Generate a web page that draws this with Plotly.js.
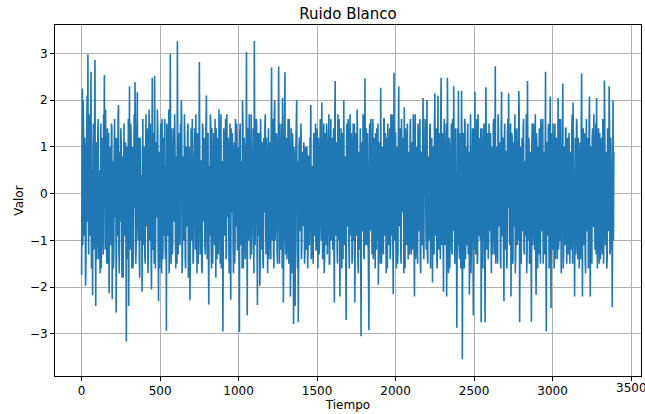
<!DOCTYPE html>
<html>
<head>
<meta charset="utf-8">
<script src="https://cdn.plot.ly/plotly-3.0.1.min.js"></script>
<style>html,body{margin:0;padding:0;background:#fff;}#chart{width:645px;height:414px;}</style>
</head>
<body>
<div id="chart"></div>
<script>
// Ruido blanco: valores leídos/estimados del gráfico
const timeStep = 5;
// valores en t = 0, 5, 10, ...
const valoresA = [
-1.74,2.25,2.0,-0.9,1.2,-1.97,0.4,2.1,2.98,-1.3,0.8,-0.6,2.61,-1.1,-2.17,1.5,-0.3,2.86,-2.40,1.1,
-0.8,1.6,-1.4,0.5,1.3,-1.6,0.9,-0.2,1.7,2.54,-1.2,0.6,-1.5,1.4,-0.7,-2.13,1.0,-0.4,1.5,-2.25,
0.7,-1.3,1.6,-0.5,-2.54,1.2,-0.9,1.9,-1.7,0.3,1.4,-1.1,0.8,-1.8,1.5,-0.6,1.1,-3.16,0.9,-1.4,
-2.4,2.30,-0.8,1.3,-1.6,0.6,-1.2,1.7,2.39,-1.5,0.4,2.17,-1.0,1.2,-1.8,0.9,-0.3,-2.1,1.6,-1.1,
1.0,-1.5,1.7,-0.7,0.5,-1.3,1.8,-1.0,0.8,-2.05,2.48,-1.2,0.6,2.52,-1.6,1.1,-0.5,1.4,-2.3,0.9,
-1.0,1.5,-1.7,0.7,1.2,-0.9,1.6,-1.4,-2.93,1.3,-0.4,1.8,-1.2,2.99,-1.5,0.5,-1.1,1.4,-0.6,1.0,
-1.6,0.8,3.26,-1.3,1.1,-0.8,1.5,2.0,-1.7,0.6,-1.0,1.7,-1.4,0.9,-0.5,1.3,-1.8,1.0,-2.28,1.2,
-0.7,1.6,-1.5,0.4,1.4,-1.2,0.8,-1.7,1.1,-0.9,2.82,-1.3,0.7,-1.6,1.5,-0.4,1.2,-1.1,0.9,2.1,
-1.4,1.3,-2.37,0.6,1.7,-1.0,1.4,-1.5,0.8,-0.6,1.6,-1.8,0.5,1.2,-1.3,1.8,-0.8,1.0,-1.6,0.7,
-2.95,1.4,-0.9,1.1,-1.4,1.7,-0.5,0.9,-1.7,1.5,-2.27,0.8,1.3,-1.1,0.4,-1.5,1.6,-0.7,1.2,-1.2,
1.0,-2.96,1.5,-0.8,0.6,2.0,-1.6,1.2,-1.0,0.7,3.03,-2.6,1.4,-0.5,1.1,-1.4,1.7,-0.9,0.5,-1.2,
3.27,-1.1,0.9,1.5,-2.38,1.3,-0.6,-1.97,1.6,-1.2,0.8,-1.5,1.2,-0.4,1.7,-1.3,0.5,-1.7,1.4,-0.8,
1.1,-1.4,2.70,-1.0,1.6,-1.6,2.0,-0.7,1.3,-1.2,0.6,2.72,-1.5,1.0,-0.9,1.5,2.05,-2.33,0.8,2.60,
-1.3,1.2,-0.6,1.6,-1.5,0.9,-2.2,1.4,-1.0,1.1,-2.79,0.7,-2.4,1.3,2.0,-1.6,-2.75,1.0,-0.8,1.2,
-1.4,0.9,-0.7,1.1,-1.5,0.6,-1.2,1.0,-1.6,0.8,-1.1,1.2,1.9,-1.3,0.5,-1.5,1.3,-0.9,1.5,-1.2,
1.4,-1.6,0.7,-1.1,1.6,-0.5,1.95,-1.4,1.0,-1.7,1.3,-0.8,1.5,-1.3,0.6,1.7,-1.5,0.9,-1.0,1.2,
-1.2,1.4,-2.33,2.41,-0.9,1.1,-1.5,0.7,1.6,-2.2,1.0,-0.6,1.3,-1.4,2.0,-1.1,0.8,-2.7,1.5,-0.7,
1.2,-1.6,1.7,-0.9,0.5,-1.3,1.5,-1.0,-2.33,1.3,-0.6,1.8,-1.5,0.9,-1.2,1.4,-3.05,1.1,-0.8,1.6,
-1.4,2.47,-1.1,0.7,1.3,-1.7,-2.92,1.5,-0.5,1.0,-1.3,1.6,-0.9,1.2,-1.6,0.6,1.4,-1.0,-1.95,1.1,
-0.8,2.27,-1.5,1.0,-1.2,1.6,-0.6,1.3,-1.7,0.8,1.5,-1.1,0.5,-1.4,1.7,-0.9,1.2,-2.15,2.59,-1.0,
1.3,-1.6,0.9,-1.2,2.3,-0.7,1.4,-1.5,1.0,-0.4,1.2,1.85,-1.6,0.6,-1.1,1.5,-1.4,0.8,-0.9,1.6,
-1.3,1.1,-0.6,1.4,-2.2,1.7,-1.0,0.7,-1.5,1.2,-0.8,1.6,-1.7,0.9,-1.1,2.05,-1.4,0.5,1.3,-1.2,
2.0,-1.5,0.8,-1.0,1.5,-0.7,1.2,-1.9,1.0,-1.3,2.15,-0.9,1.4,-1.6,2.1,-1.2,0.6,-1.4,2.48,-0.8,
1.3,-2.1,1.6,-1.1,0.9,-2.2,2.48,-1.0,1.2,-1.6,0.7,1.5,-1.3,0.5,2.3,-1.5,1.1,-0.9,-2.87,1.4,
2.2,-1.2,0.8,-1.6,2.2,-3.54,1.3,-0.7,1.6,-1.4,1.0,-1.1,1.5,-0.5,-2.16,1.2,-1.7,0.9,1.4,-2.6,
1.1,2.18,-1.3,0.6,-1.5,1.7,-0.9,1.2,-1.0,-2.75,1.4,-1.6,0.8,1.3,-2.75,2.28,-1.2,0.7,-1.4,1.5,
-0.8,1.3,-1.7,1.0,-0.6,1.6,-1.3,2.73,-1.1,0.8,-1.5,1.4,-0.7,1.1,-1.6,2.18,-0.9,1.2,-2.3,1.5,
-1.2,0.9,-1.4,1.6,2.15,-1.0,0.6,-2.2,1.3,-1.5,1.1,-0.7,1.7,-1.3,0.8,-1.1,1.4,2.2,-2.75,1.0,
-1.5,1.2,-0.8,1.6,-1.3,0.7,1.4,-1.7,2.41,-1.0,1.1,-1.4,0.9,-2.74,1.5,-0.6,1.3,-1.2,1.7,-2.16,
1.0,-1.6,0.7,1.4,-1.1,1.6,-0.8,1.2,-1.5,0.9,-1.3,2.61,-2.95,1.1,-0.6,1.5,-1.4,2.08,-2.45,1.3,
-1.2,0.8,-1.6,1.5,-0.9,1.1,-1.4,2.05,-1.0,0.6,1.6,-1.7,1.0,2.36,-1.3,0.7,-1.1,1.4,-1.5,1.2,
-0.7,1.3,-1.5,0.9,-1.2,1.7,1.95,-1.0,-2.2,1.2,-0.6,1.5,-1.4,0.8,-1.6,1.1,-0.9,2.57,-2.2,1.4,
-1.1,0.9,-1.7,1.6,-0.8,1.2,-1.3,2.08,-2.2,1.0,-1.5,1.4,-0.7,0.8,-1.2,1.5,2.05,-1.6,0.6,-1.0,
1.3,-1.4,1.1,-0.9,1.6,-1.5,2.42,-1.1,0.7,-1.6,1.4,-0.8,2.3,-1.3,1.2,-1.0,-2.43,2.0,0.9
];
// valores en t = 2.5, 7.5, 12.5, ...
const valoresB = [
0.6,-1.1,1.4,-0.3,0.9,-1.5,1.2,-0.6,0.2,1.7,-0.9,1.3,-1.6,0.5,1.0,-1.2,1.6,-0.4,0.8,-1.4,
1.1,-0.5,0.3,-1.7,1.5,-0.8,1.2,-1.3,0.4,-1.0,1.8,-0.2,0.9,-1.5,1.3,-0.7,0.6,-1.1,1.4,-0.3,
-1.6,0.8,-0.4,1.2,-1.0,0.5,1.7,-1.3,0.9,-0.6,1.1,-1.8,0.4,1.5,-0.9,0.2,-1.4,1.0,-0.7,1.6,
0.3,-1.2,1.5,-0.8,1.0,-1.6,0.6,-0.3,1.3,-1.1,1.7,-0.5,0.8,-1.4,1.2,-1.0,0.4,1.6,-0.9,0.7,
-1.3,0.9,-0.2,1.4,-1.7,1.1,-0.6,1.5,-1.2,0.3,-0.8,1.3,-1.5,0.7,1.0,-0.4,1.8,-1.1,0.5,-1.6,
1.2,-0.7,1.6,-1.4,0.4,1.0,-1.2,0.6,1.5,-0.9,0.3,-1.7,1.1,-0.5,1.4,-1.3,0.8,-0.2,1.7,-1.0,
0.5,-1.5,0.9,-0.6,1.3,-1.1,0.2,1.6,-1.3,0.8,-0.4,1.2,-1.6,1.0,-0.7,1.5,-1.2,0.4,-0.9,1.4,
-1.0,0.6,-1.4,1.1,-0.3,1.7,-0.8,1.3,-1.5,0.5,1.2,-1.0,0.7,-1.7,1.4,-0.6,0.9,-1.3,1.6,-0.4,
1.0,-1.2,0.3,-0.9,1.5,-1.6,0.8,-0.5,1.3,-1.1,0.6,1.4,-1.4,0.2,-0.7,1.1,-1.5,1.7,-0.8,0.4,
-1.2,1.0,-0.6,1.6,-1.3,0.5,1.2,-0.9,0.3,-1.5,1.4,-0.4,0.8,-1.7,1.1,-1.0,0.6,1.5,-1.2,0.9,
-0.5,1.3,-1.1,0.7,-1.6,1.5,-0.3,1.0,-1.4,0.4,-0.8,1.2,-1.0,1.7,-0.6,0.9,-1.3,0.3,1.4,-1.7,
0.8,-0.4,1.6,-1.2,0.5,-0.9,1.3,-1.5,1.0,-0.2,1.1,-1.6,0.7,1.5,-0.8,1.2,-1.1,0.6,-1.4,1.0,
-0.9,1.4,-0.5,0.8,-1.3,1.7,-1.0,0.3,1.2,-1.5,0.9,-0.7,1.5,-1.2,0.4,-1.6,1.1,-0.3,1.3,-0.8,
1.1,-1.4,0.6,-1.0,1.6,-0.4,0.9,-1.7,1.3,-0.6,1.0,-1.1,0.5,1.4,-0.9,0.7,-1.3,1.2,-0.5,1.5,
-1.2,0.7,-0.4,0.9,-1.3,1.0,-0.8,0.5,-1.1,0.8,-0.6,1.0,-1.4,0.6,-0.9,1.1,-0.5,0.9,-1.2,0.7,
-0.8,1.2,-1.3,0.5,1.4,-1.0,0.8,-0.3,1.5,-1.4,0.6,-1.1,1.3,-0.7,1.0,-1.5,0.4,1.6,-0.9,1.1,
0.6,-1.3,1.5,-0.8,0.3,-1.2,1.7,-1.0,0.9,-0.5,1.4,-1.6,0.7,1.2,-0.9,0.4,-1.4,1.1,-0.6,1.6,
-1.1,0.8,-0.3,1.3,-1.5,1.0,-0.7,1.5,-1.2,0.5,-0.9,1.2,-1.7,0.6,1.4,-1.0,0.8,-0.4,1.7,-1.3,
0.9,-0.6,1.4,-1.1,0.4,-1.6,1.2,-0.8,1.6,-0.3,1.0,-1.4,0.7,-1.0,1.3,-1.2,0.5,1.5,-0.7,0.8,
-1.5,1.1,-0.4,0.7,-1.3,1.6,-0.9,0.3,1.2,-1.6,0.9,-0.5,1.4,-1.1,0.6,1.7,-1.2,0.4,-0.8,1.3,
-0.7,1.0,-1.5,1.3,-0.5,0.8,-1.2,1.6,-0.3,1.1,-1.7,0.6,1.4,-0.9,1.2,-0.6,0.9,-1.3,1.5,-1.0,
0.5,-1.2,1.7,-0.8,0.3,-1.4,1.0,-1.0,1.5,-0.6,1.2,-1.5,0.4,-0.9,1.3,-1.1,0.7,1.6,-0.4,0.9,
-1.3,0.6,-0.8,1.4,-1.6,1.1,-0.3,0.9,-1.2,1.5,-0.7,1.0,-1.4,0.5,-1.0,1.3,-0.5,1.7,-1.1,0.8,
-0.6,1.2,-1.0,0.4,1.5,-1.3,0.7,-1.7,1.1,-0.4,0.9,-1.2,1.6,-0.8,0.3,-1.5,1.4,-0.6,1.0,-1.1,
0.7,-1.4,1.3,-0.5,1.0,-1.0,0.6,-1.6,1.5,-0.8,0.4,1.2,-1.3,0.9,-0.7,1.7,-1.1,0.5,-0.9,1.4,
-1.2,0.8,-0.4,1.6,-1.4,0.3,1.1,-0.9,1.4,-1.2,0.7,-0.6,1.5,-1.5,0.5,1.0,-0.8,1.3,-1.0,0.6,
1.2,-0.7,0.9,-1.3,1.5,-0.4,0.6,-1.5,1.0,-1.1,1.7,-0.5,0.8,-1.4,1.3,-0.9,0.4,-1.2,1.1,-0.6,
0.9,-1.6,1.3,-0.3,0.7,-1.1,1.5,-0.8,1.2,-1.4,0.5,1.0,-1.7,1.4,-0.6,0.8,-1.0,1.6,-1.2,0.4,
1.1,-0.5,1.4,-1.2,0.6,-0.9,1.7,-1.3,0.3,1.2,-1.5,0.8,-0.6,1.0,-1.1,1.5,-0.4,0.9,-1.4,1.3,
-0.8,1.0,-1.3,0.5,-1.5,1.2,-0.7,1.6,-1.0,0.4,1.3,-1.2,0.7,-0.9,1.4,-1.6,1.1,-0.3,0.8,-1.1,
1.5,-0.6,0.9,-1.4,1.2,-0.8,0.4,-1.2,1.6,-1.0,0.7,-0.5,1.3,-1.6,1.0,-0.9,1.4,-0.4,0.6,-1.3,
1.0,-1.1,0.6,-0.7,1.4,-1.5,1.1,-0.3,0.8,-1.3,1.6,-0.9,1.2,-1.1,0.5,-1.4,1.5,-0.6,1.0,-0.8,
1.3,-1.4,0.8,-0.5,1.0,-1.6,1.5,-0.9,0.4,-1.2,1.2,-0.7,1.7,-1.0,0.6,-1.3,0.9,-0.4,1.4,-1.5,
0.7,-0.9,1.2,-1.3,0.5,-0.6,1.5,-1.1,0.9,-1.4,1.1,-0.5,1.6,-1.2,0.8,-0.7,1.3,-1.0
];

// Intercalar ambas series en orden temporal
const tiempo = [];
const valores = [];
valoresA.forEach((v, i) => {
  tiempo.push(i * timeStep);
  valores.push(v);
  if (i < valoresB.length) {
    tiempo.push(i * timeStep + timeStep / 2);
    valores.push(valoresB[i]);
  }
});

const xTicks = [0, 500, 1000, 1500, 2000, 2500, 3000, 3500];
const yTicks = [-3, -2, -1, 0, 1, 2, 3];
const lastTick = xTicks[xTicks.length - 1];

const font = "DejaVu Sans, sans-serif";

const trace = {
  x: tiempo,
  y: valores,
  type: 'scatter',
  mode: 'lines',
  line: {color: '#1f77b4', width: 1.6},
  hoverinfo: 'skip'
};

const axisCommon = {
  showgrid: true,
  gridcolor: '#b0b0b0',
  gridwidth: 1,
  zeroline: false,
  showline: true,
  mirror: true,
  linecolor: '#000000',
  linewidth: 1,
  ticks: 'outside',
  ticklen: 4,
  tickwidth: 1,
  tickcolor: '#000000',
  tickfont: {family: font, size: 12, color: '#000000'}
};

const layout = {
  width: 645,
  height: 414,
  margin: {l: 54.7, r: 3.7, t: 25.3, b: 38, pad: 0},
  paper_bgcolor: '#ffffff',
  plot_bgcolor: '#ffffff',
  showlegend: false,
  title: {
    text: 'Ruido Blanco',
    font: {family: font, size: 15, color: '#000000'},
    x: 0.5, xref: 'paper', xanchor: 'center',
    y: 1 - 13.5 / 414, yref: 'container', yanchor: 'middle'
  },
  xaxis: Object.assign({}, axisCommon, {
    range: [-169.5, 3563],
    tickmode: 'array',
    tickvals: xTicks,
    // la etiqueta del último tick se dibuja como anotación (desborda el borde derecho)
    ticktext: xTicks.map(v => v === lastTick ? '' : String(v)),
    title: {text: 'Tiempo', font: {family: font, size: 12, color: '#000000'}, standoff: 2}
  }),
  yaxis: Object.assign({}, axisCommon, {
    range: [-3.90, 3.61],
    tickmode: 'array',
    tickvals: yTicks,
    ticktext: yTicks.map(v => v < 0 ? '\u2212' + Math.abs(v) : String(v)),
    title: {text: 'Valor', font: {family: font, size: 12, color: '#000000'}, standoff: 3}
  }),
  annotations: [{
    x: lastTick, xref: 'x', y: 0, yref: 'paper',
    xanchor: 'center', yanchor: 'middle', yshift: -12,
    text: String(lastTick), showarrow: false, borderpad: 0,
    font: {family: font, size: 12, color: '#000000'}
  }]
};

Plotly.newPlot('chart', [trace], layout, {staticPlot: true, displayModeBar: false});
</script>
</body>
</html>
